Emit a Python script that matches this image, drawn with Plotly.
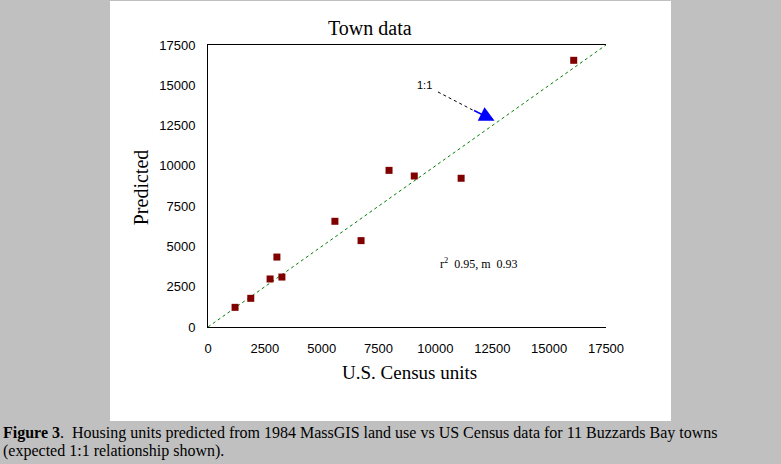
import plotly.graph_objects as go

# Data
census_units = [1190, 1880, 2730, 3030, 3250, 5580, 6730, 7960, 9070, 11130, 16080]
predicted = [1220, 1780, 2980, 4340, 3100, 6560, 5360, 9720, 9370, 9230, 16550]
one_to_one = [0, 17500]
tick_vals = [0, 2500, 5000, 7500, 10000, 12500, 15000, 17500]
tick_text = [str(v) for v in tick_vals]

fig = go.Figure()
fig.add_trace(go.Scatter(
    x=one_to_one, y=one_to_one, mode="lines",
    line=dict(color="#008000", width=1, dash="dot"),
    hoverinfo="skip", showlegend=False, cliponaxis=False))
fig.add_trace(go.Scatter(
    x=census_units, y=predicted, mode="markers",
    marker=dict(symbol="square", size=7, color="#800000"),
    showlegend=False))

serif = "Liberation Serif, Times New Roman, serif"
sans = "Liberation Sans, Arial, sans-serif"

axis_common = dict(
    range=[0, 17500], tickvals=tick_vals, ticktext=tick_text,
    showgrid=False, zeroline=False, showline=True, linecolor="black",
    linewidth=1, ticks="", tickfont=dict(family=sans, size=13, color="black"),
    ticklabelstandoff=9,
)

fig.update_xaxes(**axis_common, mirror=True)
fig.update_yaxes(**axis_common, mirror=False)

anns = []
anns.append(dict(text="Town data", xref="paper", yref="paper", x=0.407, y=1.060,
                 xanchor="center", yanchor="middle", showarrow=False,
                 font=dict(family=serif, size=20, color="black")))
anns.append(dict(text="Predicted", xref="paper", yref="paper", x=-0.168, y=0.496,
                 textangle=-90, xanchor="center", yanchor="middle", showarrow=False,
                 font=dict(family=serif, size=20, color="black")))
anns.append(dict(text="U.S. Census units", xref="paper", yref="paper", x=0.5075, y=-0.160,
                 xanchor="center", yanchor="middle", showarrow=False,
                 font=dict(family=serif, size=19, color="black")))
anns.append(dict(text="r<sup>2</sup>  0.95, m  0.93", xref="x", yref="y", x=11916, y=3950,
                 xanchor="center", yanchor="middle", showarrow=False,
                 font=dict(family=serif, size=12, color="black")))
anns.append(dict(text="1:1", xref="x", yref="y", x=9498, y=15018,
                 xanchor="center", yanchor="middle", showarrow=False,
                 font=dict(family=sans, size=11, color="black")))
# blue arrowhead
anns.append(dict(text="", xref="x", yref="y", x=12600, y=12800,
                 ax=-22, ay=-11, showarrow=True, arrowhead=2, arrowsize=2,
                 arrowwidth=1.5, arrowcolor="#0000ff", standoff=0))
anns.append(dict(text="<b>Figure 3</b>.  Housing units predicted from 1984 MassGIS land use vs US Census data for 11 Buzzards Bay towns",
                 xref="paper", yref="paper", x=-0.5226 + 0.003, y=-0.376,
                 xanchor="left", yanchor="middle", showarrow=False,
                 font=dict(family=serif, size=16, color="black")))
anns.append(dict(text="(expected 1:1 relationship shown).",
                 xref="paper", yref="paper", x=-0.5226 + 0.003, y=-0.440,
                 xanchor="left", yanchor="middle", showarrow=False,
                 font=dict(family=serif, size=16, color="black")))

shapes = [
    dict(type="rect", xref="paper", yref="paper", x0=-0.2462, x1=1.1633,
         y0=-0.333, y1=1.156, fillcolor="white", line=dict(width=0), layer="below"),
    dict(type="line", xref="x", yref="y", x0=10113, y0=14584, x1=11700, y1=13420,
         line=dict(color="black", width=1, dash="dot")),
]

fig.update_layout(
    width=781, height=464,
    margin=dict(l=208, r=175, t=45, b=137),
    paper_bgcolor="#c0c0c0", plot_bgcolor="white",
    annotations=anns, shapes=shapes,
)

fig.write_html("out.html")
